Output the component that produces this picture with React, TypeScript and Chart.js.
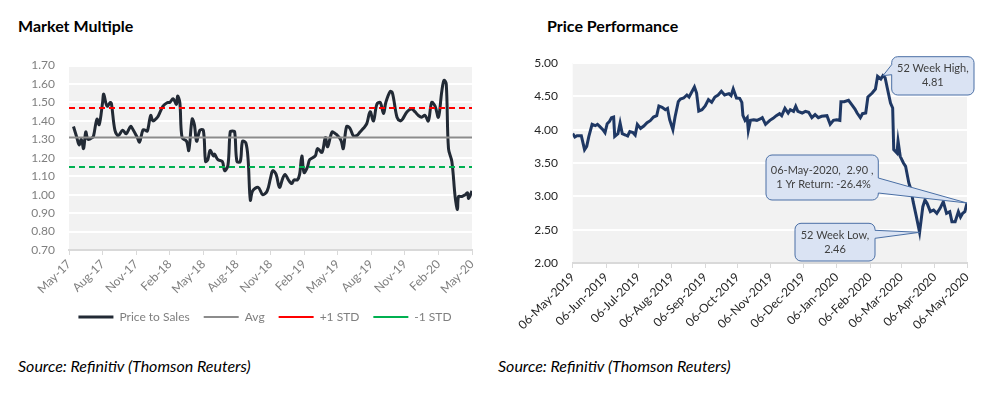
import React, { useEffect, useRef } from "react";
import { Chart, registerables } from "chart.js";

Chart.register(...registerables);

const FONT = "Lato, 'Open Sans', sans-serif";

// ---------------- Market Multiple (Price to Sales) ----------------
// x = months since May-17
const mmMonths = [
  0.4, 0.7, 0.9, 1.1, 1.3, 1.5, 1.7, 2.1, 2.2, 2.5, 2.7, 3.0, 3.1, 3.4, 3.7, 3.8,
  4.1, 4.4, 4.8, 5.1, 5.5, 5.7, 6.1, 6.3, 6.6, 6.8, 7.0, 7.3, 7.5, 7.9, 8.0, 8.4,
  8.8, 9.0, 9.3, 9.6, 9.7, 9.9, 10.1, 10.5, 10.7, 11.0, 11.2, 11.4, 11.7, 12.0, 12.2, 12.4,
  12.6, 12.9, 13.0, 13.3, 13.7, 13.9, 14.2, 14.4, 14.6, 14.8, 15.0, 15.3, 15.5, 15.8, 16.0, 16.2,
  16.4, 16.9, 17.3, 17.7, 18.0, 18.2, 18.5, 18.8, 19.1, 19.3, 19.6, 19.9, 20.1, 20.4, 20.6, 20.8,
  21.0, 21.3, 21.5, 22.0, 22.2, 22.6, 22.9, 23.1, 23.5, 23.8, 24.0, 24.3, 24.5, 24.8, 25.1, 25.4,
  25.7, 26.0, 26.3, 26.6, 26.9, 27.2, 27.5, 27.8, 28.1, 28.3, 28.7, 28.9, 29.3, 29.6, 29.8, 30.2,
  30.6, 30.9, 31.2, 31.5, 31.8, 32.1, 32.4, 32.7, 33.0, 33.3, 33.5, 33.7, 33.9, 34.2, 34.5, 34.7,
  34.8, 35.1, 35.4, 35.6, 35.7, 36.0,
];
const mmValues = [
  1.37, 1.31, 1.27, 1.30, 1.25, 1.34, 1.30, 1.31, 1.32, 1.41, 1.38, 1.50, 1.545, 1.48, 1.50, 1.49,
  1.35, 1.32, 1.35, 1.33, 1.37, 1.355, 1.31, 1.285, 1.35, 1.35, 1.345, 1.43, 1.40, 1.42, 1.43, 1.48,
  1.50, 1.50, 1.52, 1.49, 1.535, 1.50, 1.31, 1.29, 1.24, 1.41, 1.38, 1.29, 1.35, 1.35, 1.18, 1.19,
  1.24, 1.21, 1.22, 1.19, 1.18, 1.13, 1.16, 1.34, 1.345, 1.34, 1.18, 1.18, 1.29, 1.28, 1.19, 0.97,
  1.02, 1.04, 1.00, 1.02, 1.09, 1.13, 1.11, 1.04, 1.09, 1.11, 1.08, 1.06, 1.08, 1.08, 1.11, 1.21,
  1.12, 1.15, 1.19, 1.21, 1.25, 1.23, 1.31, 1.26, 1.34, 1.33, 1.32, 1.295, 1.25, 1.37, 1.36, 1.32,
  1.32, 1.34, 1.36, 1.385, 1.45, 1.40, 1.49, 1.50, 1.44, 1.50, 1.56, 1.55, 1.42, 1.40, 1.41, 1.45,
  1.465, 1.45, 1.43, 1.42, 1.43, 1.40, 1.50, 1.48, 1.42, 1.56, 1.62, 1.60, 1.25, 1.18, 0.985, 0.92,
  0.99, 0.99, 1.00, 1.01, 0.98, 1.02,
];
const mmAvg = 1.31;
const mmPlusStd = 1.47;
const mmMinusStd = 1.15;
const mmTickLabels = [
  "May-17", "Aug-17", "Nov-17", "Feb-18", "May-18", "Aug-18", "Nov-18",
  "Feb-19", "May-19", "Aug-19", "Nov-19", "Feb-20", "May-20",
];

// ---------------- Price Performance ----------------
// x = days since 06-May-2019
const ppDays = [
  0, 2, 4, 8, 11, 13, 15, 18, 21, 23, 25, 28, 30, 32, 34, 36, 38, 39, 42, 44, 46, 49, 51, 53,
  56, 58, 60, 63, 66, 69, 72, 75, 78, 80, 83, 86, 88, 90, 93, 95, 98, 100, 103, 106, 108, 110,
  113, 115, 117, 120, 123, 126, 129, 132, 135, 138, 141, 145, 147, 149, 152, 155, 157, 158, 160,
  162, 163, 165, 168, 171, 174, 176, 179, 183, 186, 189, 192, 194, 197, 200, 202, 205, 207, 209,
  213, 216, 219, 222, 225, 228, 231, 236, 239, 242, 245, 248, 249, 252, 256, 259, 262, 264, 267,
  269, 272, 274, 278, 281, 283, 286, 288, 290, 292, 295, 297, 298, 301, 302, 304, 307, 309, 312,
  314, 316, 319, 322, 325, 327, 329, 332, 335, 338, 341, 344, 347, 350, 352, 355, 358, 360, 362,
  364, 366,
];
const ppValues = [
  3.94, 3.89, 3.91, 3.91, 3.70, 3.75, 3.90, 4.08, 4.06, 4.08, 4.05, 4.00, 3.955, 4.09, 4.12, 4.18,
  4.19, 3.90, 3.94, 4.10, 3.94, 3.92, 3.905, 3.97, 3.955, 3.92, 4.08, 4.02, 4.055, 4.105, 4.135,
  4.19, 4.21, 4.355, 4.335, 4.30, 4.32, 4.15, 4.00, 4.19, 4.42, 4.46, 4.475, 4.52, 4.49, 4.55,
  4.64, 4.55, 4.28, 4.30, 4.355, 4.45, 4.41, 4.49, 4.52, 4.575, 4.52, 4.54, 4.51, 4.61, 4.475,
  4.47, 4.41, 4.215, 4.14, 4.18, 3.99, 4.14, 4.15, 4.14, 4.16, 4.18, 4.08, 4.14, 4.17, 4.21, 4.24,
  4.21, 4.32, 4.25, 4.30, 4.275, 4.35, 4.275, 4.25, 4.275, 4.26, 4.18, 4.225, 4.18, 4.20, 4.21,
  4.08, 4.14, 4.15, 4.14, 4.42, 4.42, 4.44, 4.375, 4.31, 4.25, 4.18, 4.24, 4.25, 4.49, 4.55, 4.61,
  4.80, 4.76, 4.81, 4.78, 4.625, 4.40, 4.325, 3.70, 3.65, 3.83, 3.60, 3.50, 3.45, 3.20, 3.10, 2.92,
  2.695, 2.46, 2.845, 2.945, 2.895, 2.77, 2.795, 2.745, 2.82, 2.92, 2.745, 2.77, 2.62, 2.62, 2.77,
  2.69, 2.745, 2.77, 2.90,
];
const ppTickDays = [0, 31, 61, 92, 123, 153, 184, 214, 245, 276, 305, 336, 366];
const ppTickLabels = [
  "06-May-2019", "06-Jun-2019", "06-Jul-2019", "06-Aug-2019", "06-Sep-2019", "06-Oct-2019",
  "06-Nov-2019", "06-Dec-2019", "06-Jan-2020", "06-Feb-2020", "06-Mar-2020", "06-Apr-2020",
  "06-May-2020",
];

// ---------------- plugins ----------------
const plotBg = {
  id: "plotBg",
  beforeDraw(chart: any, _a: any, opts: any) {
    const { ctx, chartArea } = chart;
    if (!chartArea) return;
    ctx.save();
    ctx.fillStyle = opts.color || "#f2f2f2";
    ctx.fillRect(chartArea.left, chartArea.top, chartArea.right - chartArea.left, chartArea.bottom - chartArea.top);
    ctx.restore();
  },
};

// shift the (bottom) legend horizontally
const legendShift = {
  id: "legendShift",
  afterLayout(chart: any, _a: any, opts: any) {
    const lg = chart.legend;
    if (!lg || !opts.dx) return;
    lg.left += opts.dx;
    lg.right += opts.dx;
  },
};

function calloutPath(ctx: CanvasRenderingContext2D, bx: number, by: number, w: number, h: number, r: number,
  side: string, b0: number, b1: number, ax: number, ay: number) {
  ctx.beginPath();
  ctx.moveTo(bx + r, by);
  ctx.lineTo(bx + w - r, by);
  ctx.arcTo(bx + w, by, bx + w, by + r, r);
  if (side === "right") {
    ctx.lineTo(bx + w, by + b0);
    ctx.lineTo(ax, ay);
    ctx.lineTo(bx + w, by + b1);
  }
  ctx.lineTo(bx + w, by + h - r);
  ctx.arcTo(bx + w, by + h, bx + w - r, by + h, r);
  ctx.lineTo(bx + r, by + h);
  ctx.arcTo(bx, by + h, bx, by + h - r, r);
  if (side === "left") {
    ctx.lineTo(bx, by + b1);
    ctx.lineTo(ax, ay);
    ctx.lineTo(bx, by + b0);
  }
  ctx.lineTo(bx, by + r);
  ctx.arcTo(bx, by, bx + r, by, r);
  ctx.closePath();
}

const callouts = {
  id: "callouts",
  afterDatasetsDraw(chart: any) {
    const { ctx, scales } = chart;
    const xs = scales.x;
    const ys = scales.y;
    let hi = 0;
    let lo = 0;
    ppValues.forEach((v, i) => {
      if (v > ppValues[hi]) hi = i;
      if (v < ppValues[lo]) lo = i;
    });
    const last = ppValues.length - 1;
    const ret = (ppValues[last] / ppValues[0] - 1) * 100;
    const items = [
      {
        i: hi, box: [401.7, 16.7, 82.3, 38.3], side: "left", b0: 8, b1: 18,
        lines: ["52 Week High,", ppValues[hi].toFixed(2)],
      },
      {
        i: last, box: [276, 115, 112.3, 45], side: "right", b0: 23, b1: 38,
        lines: [`${ppTickLabels[ppTickLabels.length - 1]},  ${ppValues[last].toFixed(2)} ,`, ` 1 Yr Return: ${ret.toFixed(1)}%`],
      },
      {
        i: lo, box: [305, 183.3, 80, 37.7], side: "right", b0: 7, b1: 15,
        lines: ["52 Week Low,", ppValues[lo].toFixed(2)],
      },
    ];
    ctx.save();
    for (const it of items) {
      const ax = xs.getPixelForValue(ppDays[it.i]);
      const ay = ys.getPixelForValue(ppValues[it.i]);
      const [bx, by, w, h] = it.box;
      calloutPath(ctx, bx, by, w, h, 6, it.side, it.b0, it.b1, ax, ay);
      ctx.fillStyle = "#dae3f3";
      ctx.fill();
      ctx.lineWidth = 1;
      ctx.strokeStyle = "#4a6fa5";
      ctx.stroke();
      ctx.fillStyle = "#404040";
      ctx.font = `11px ${FONT}`;
      ctx.textAlign = "center";
      ctx.textBaseline = "middle";
      const cx = bx + w / 2;
      const cy = by + h / 2;
      ctx.fillText(it.lines[0], cx, cy - 7);
      ctx.fillText(it.lines[1], cx, cy + 7);
    }
    ctx.restore();
  },
};

function MarketMultiple() {
  const ref = useRef<HTMLCanvasElement>(null);
  useEffect(() => {
    const pts = mmMonths.map((m, i) => ({ x: m, y: mmValues[i] }));
    const flat = (v: number) => [{ x: 0, y: v }, { x: 36, y: v }];
    const chart = new Chart(ref.current!, {
      type: "line",
      data: {
        datasets: [
          { label: "Price to Sales", data: pts, borderColor: "#222a35", backgroundColor: "#222a35", borderWidth: 3, pointRadius: 0, tension: 0.35, order: 1 },
          { label: "Avg", data: flat(mmAvg), borderColor: "#8c8c8c", backgroundColor: "#8c8c8c", borderWidth: 2, pointRadius: 0, order: 0 },
          { label: "+1 STD", data: flat(mmPlusStd), borderColor: "#ff0000", backgroundColor: "#ff0000", borderWidth: 2, borderDash: [6, 4], pointRadius: 0, order: 0 },
          { label: "-1 STD", data: flat(mmMinusStd), borderColor: "#00b050", backgroundColor: "#00b050", borderWidth: 2, borderDash: [6, 4], pointRadius: 0, order: 0 },
        ],
      } as any,
      options: {
        responsive: false,
        animation: false,
        layout: { padding: { left: 0, right: 18, top: 25.6, bottom: 0 } },
        plugins: {
          plotBg: { color: "#f2f2f2" },
          legendShift: { dx: 29 },
          tooltip: { enabled: false },
          legend: {
            position: "bottom",
            labels: {
              usePointStyle: true,
              pointStyle: "line",
              pointStyleWidth: 35,
              padding: 14,
              color: "#7f7f7f",
              font: { family: FONT, size: 12 },
              sort: (a: any, b: any) => a.datasetIndex - b.datasetIndex,
            },
          },
        } as any,
        scales: {
          x: {
            type: "linear",
            min: 0,
            max: 36,
            afterFit: (s: any) => { s.height = 47; s.paddingLeft = 0; s.paddingRight = 0; },
            ticks: {
              stepSize: 3,
              autoSkip: false,
              minRotation: 45,
              maxRotation: 45,
              padding: 2,
              color: "#7f7f7f",
              font: { family: FONT, size: 12 },
              callback: (_v: any, i: number) => mmTickLabels[i],
            },
            grid: { drawOnChartArea: false, drawTicks: true, tickLength: 5, color: "#d9d9d9" },
            border: { color: "#d9d9d9", width: 2 },
          },
          y: {
            min: 0.7,
            max: 1.7,
            afterFit: (s: any) => { s.width = 69; s.paddingTop = 0; s.paddingBottom = 0; },
            ticks: {
              stepSize: 0.1,
              padding: 14,
              color: "#7f7f7f",
              font: { family: FONT, size: 12 },
              callback: (v: any) => Number(v).toFixed(2),
            },
            grid: { color: (c: any) => (c.index === 0 ? "rgba(0,0,0,0)" : "#ffffff"), lineWidth: 2, drawTicks: false },
            border: { display: false },
          },
        },
      } as any,
      plugins: [plotBg, legendShift],
    });
    return () => chart.destroy();
  }, []);
  return <canvas ref={ref} width={490} height={293} style={{ position: "absolute", left: 0, top: 40, display: "block" }} />;
}

function PricePerformance() {
  const ref = useRef<HTMLCanvasElement>(null);
  useEffect(() => {
    const pts = ppDays.map((d, i) => ({ x: d, y: ppValues[i] }));
    const chart = new Chart(ref.current!, {
      type: "line",
      data: {
        datasets: [
          { label: "Price", data: pts, borderColor: "#1f3864", borderWidth: 3, pointRadius: 0, tension: 0 },
        ],
      } as any,
      options: {
        responsive: false,
        animation: false,
        layout: { padding: { left: 0, right: 15, top: 23, bottom: 0 } },
        plugins: {
          plotBg: { color: "#f2f2f2" },
          tooltip: { enabled: false },
          legend: { display: false },
        } as any,
        scales: {
          x: {
            type: "linear",
            min: 0,
            max: 366,
            afterBuildTicks: (s: any) => { s.ticks = ppTickDays.map((v) => ({ value: v })); },
            afterFit: (s: any) => { s.height = 77; s.paddingLeft = 0; s.paddingRight = 0; },
            ticks: {
              autoSkip: false,
              minRotation: 45,
              maxRotation: 45,
              padding: 2,
              color: "#262626",
              font: { family: FONT, size: 12 },
              callback: (_v: any, i: number) => ppTickLabels[i],
            },
            grid: { drawOnChartArea: false, drawTicks: true, tickLength: 5, color: "#d9d9d9" },
            border: { color: "#d9d9d9", width: 2 },
          },
          y: {
            min: 2,
            max: 5,
            afterFit: (s: any) => { s.width = 82.7; s.paddingTop = 0; s.paddingBottom = 0; },
            ticks: {
              stepSize: 0.5,
              padding: 14.7,
              color: "#262626",
              font: { family: FONT, size: 12 },
              callback: (v: any) => Number(v).toFixed(2),
            },
            grid: { color: (c: any) => (c.index === 0 ? "rgba(0,0,0,0)" : "#ffffff"), lineWidth: 2, drawTicks: false },
            border: { display: false },
          },
        },
      } as any,
      plugins: [plotBg, callouts],
    });
    return () => chart.destroy();
  }, []);
  return <canvas ref={ref} width={492} height={300} style={{ position: "absolute", left: 490, top: 40, display: "block" }} />;
}

const titleStyle: React.CSSProperties = {
  position: "absolute",
  fontFamily: FONT,
  fontWeight: 700,
  fontSize: 16,
  lineHeight: "20px",
  color: "#000",
  whiteSpace: "nowrap",
};
const sourceStyle: React.CSSProperties = {
  position: "absolute",
  fontFamily: FONT,
  fontStyle: "italic",
  fontSize: 16,
  lineHeight: "20px",
  color: "#000",
  whiteSpace: "nowrap",
};

export default function App() {
  return (
    <div style={{ position: "absolute", left: 0, top: 0, width: 982, height: 395, background: "#fff", overflow: "hidden" }}>
      <div style={{ ...titleStyle, left: 18, top: 16 }}>Market Multiple</div>
      <div style={{ ...titleStyle, left: 547, top: 16 }}>Price Performance</div>
      <MarketMultiple />
      <PricePerformance />
      <div style={{ ...sourceStyle, left: 18, top: 356 }}>Source: Refinitiv (Thomson Reuters)</div>
      <div style={{ ...sourceStyle, left: 498, top: 356 }}>Source: Refinitiv (Thomson Reuters)</div>
    </div>
  );
}
